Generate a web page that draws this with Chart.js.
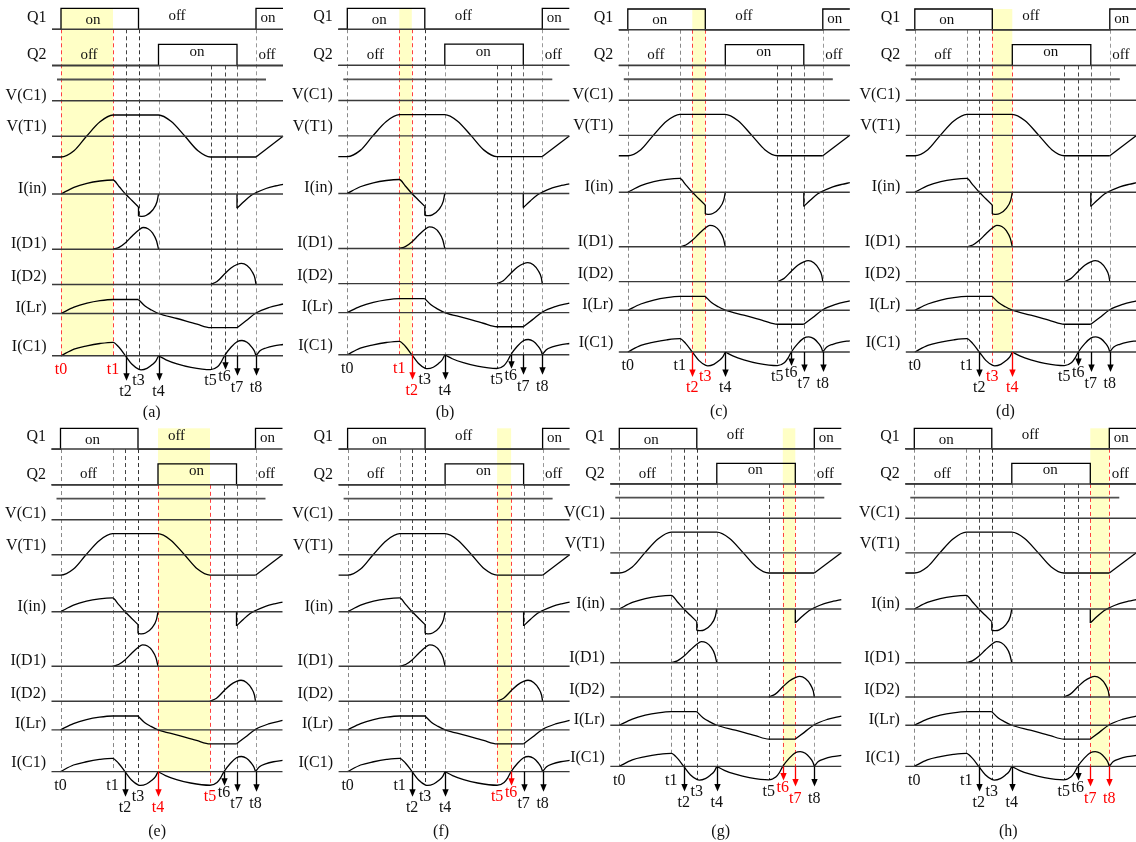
<!DOCTYPE html>
<html><head><meta charset="utf-8">
<script src="https://cdn.jsdelivr.net/npm/chart.js@4/dist/chart.umd.min.js"></script>
<style>
html,body{margin:0;padding:0;background:#fff;width:1136px;height:842px;overflow:hidden;position:relative}
canvas{position:absolute}
</style></head><body>
<script>
// ===== DATA =====
const tickLabels = ['t0','t1','t2','t3','t4','t5','t6','t7','t8'];
const tMarks = [0, 52, 64.5, 77.5, 97.5, 149.5, 163.5, 176, 195];
const tStart = -9, tEnd = 222;
const rowNames = ['Q1','Q2','V(C1)','V(T1)','I(in)','I(D1)','I(D2)','I(Lr)','I(C1)'];
const panelCaptions = ['(a)','(b)','(c)','(d)','(e)','(f)','(g)','(h)'];
const arrowMarks = [2, 4, 6, 7, 8];
const q1States = ['on','off','on'];
const q2States = ['off','on','off'];

// waveform segments: [time, level] (level: up = positive)
const q1Segs = [[[-9,0],[0,0],[0,21],[77.5,21],[77.5,0],[195,0],[195,21],[222,21]]];
const q2Segs = [[[-9,0],[97.5,0],[97.5,21.2],[176,21.2],[176,0],[222,0]]];
const vt1Segs = [
  [[-9,-20.7],[0,-20.7],[13,-14.5],[25.5,0],[39,14.5],[52,21.3],[97.5,21.3],[110,15],[124,0],[137,-14.5],[149.5,-20.7],[195,-20.7]],
  [[195,-20.7],[222,0]]
];
const iinSegs = [
  [[0,0],[13,6.7],[26,10.7],[39,13],[52,14],[58,7.5],[64.5,0],[71,-6.5],[77.5,-13]],
  [[77.5,-13],[77.5,-22]],
  [[77.5,-22],[81,-22.3],[85,-21.5],[91.7,-16],[96,-7.7],[97.5,0]],
  [[176,0],[176,-14.3]],
  [[176,-14.3],[183,-7.5],[190,-1.5],[195,1.3],[205,5.5],[214,8],[222,9.7]]
];
const id1Segs = [[[52,0],[58,1.8],[64.5,6.5],[71,13],[77.5,19],[82,21.7],[87,20.5],[91.7,16],[95.5,8.5],[97.5,0]]];
const id2Segs = [[[149.5,0],[156,3],[163.5,10.5],[170,16.5],[176,20],[180.5,21.2],[186,19],[191,13],[194,6],[195,0]]];
const ilrSegs = [
  [[0,0],[13,6.3],[26,10.3],[39,12.8],[52,14],[77.5,14]],
  [[77.5,14],[84,7.5],[90.5,3.5],[97.5,0],[116,-5],[136,-10.7],[149.5,-14.2],[176,-14.2]],
  [[176,-14.2],[185,-7.3],[195,0.5],[208,6],[222,9.5]]
];
const ic1Segs = [
  [[0,0],[13,6.7],[26,10],[39,12.3],[52,13.5],[58,8.5],[64.5,0],[71,-8.5],[78,-13.6],[80,-14],[86,-12.5],[91,-9],[95,-5],[97.5,0]],
  [[97.5,0],[105,-4],[116,-8],[130,-11.5],[149.5,-13.8],[156.5,-11],[160,-6.5],[163.5,0],[170,8.5],[176,14],[181,15.3],[186,13.5],[190.5,9],[193.5,4.5],[195,0]],
  [[195,0],[199,5],[205,7.8],[213,10],[222,11.3]]
];
const signalSegs = [q1Segs, q2Segs, null, vt1Segs, iinSegs, id1Segs, id2Segs, ilrSegs, ic1Segs];

// ===== LAYOUT =====
const rowBase = [29.3, 65.5, 100.8, 136.3, 194, 249.2, 284.5, 313.5, 355.8];
const rowLabelDy = [-12, -10.5, -5.5, -9.5, -5.5, -5.5, -7.5, -6, -9];
const extraLine = {y: 79.5, x0: -4, x1: 205};
const topLevel = 8.3;
const q1StateX = [32, 116, 207], q1StateDy = [-9.3, -13.6, -11];
const q2StateX = [28, 136, 206], q2StateDy = [-10.5, -13.8, -10.5];
const dashStartRow = [0,0,0,0,1,1,1,1,0];
const dashColor = ['#888','#888','#444','#333','#999','#444','#444','#666','#999'];
const dashExtra = [0,0,0,13.8,0,13.8,0,0,0];
const tLabelDy = [14,14,36,25,36,25,21,32,32];
const arrowLen = {2:25, 4:25, 6:14, 7:20, 8:20};
const panelX0 = [61, 347.3, 627.8, 914.8, 60.5, 347.6, 619.3, 914.3];
const panelYT = [8.3, 8.3, 9, 9, 428.3, 428.3, 428.3, 428.3];
const panelS  = [1, 0.997, 0.987, 0.987, 0.988, 0.988, 0.973, 0.973];
const capX = [90.7, 97.7, 91, 90.6, 96.6, 93.5, 101.4, 94];
const capY = [413, 413, 411.7, 411.7, 831.7, 831.7, 832, 831.7];
const YELLOW = 'rgb(255,255,198)';
const RED = '#f00';
const FONT = '"Liberation Serif", "DejaVu Serif", serif';

function isSmooth(pts){
  if (pts.length < 3) return false;
  for (let i=1;i<pts.length;i++) if (pts[i][0] <= pts[i-1][0]) return false;
  return true;
}

function buildDatasets(){
  const ds = [];
  // baselines
  rowBase.forEach(b => ds.push({data:[{x:tStart,y:b},{x:tEnd,y:b}], borderColor:'#3a3a3a', borderWidth:1.4}));
  ds.push({data:[{x:extraLine.x0,y:extraLine.y},{x:extraLine.x1,y:extraLine.y}], borderColor:'#505050', borderWidth:1.8});
  signalSegs.forEach((segs, r) => {
    if (!segs) return;
    segs.forEach(seg => {
      const sm = isSmooth(seg);
      ds.push({
        data: seg.map(([x,a]) => ({x, y: rowBase[r] - a})),
        borderColor:'#000', borderWidth:1.3,
        cubicInterpolationMode: sm ? 'monotone' : 'default', tension: 0
      });
    });
  });
  return ds;
}

const deco = {
  id: 'deco',
  beforeDatasetsDraw(chart, args, o){
    const {ctx} = chart; const xs = chart.scales.x, ys = chart.scales.y; const k = o.panel;
    ctx.save();
    const xa = xs.getPixelForValue(tMarks[k]), xb = xs.getPixelForValue(tMarks[k+1]);
    const yt = ys.getPixelForValue(topLevel), yb = ys.getPixelForValue(rowBase[8]);
    ctx.fillStyle = YELLOW; ctx.fillRect(xa, yt, xb-xa, yb-yt);
    ctx.setLineDash([4,3]); ctx.lineWidth = 1;
    tMarks.forEach((t,i) => {
      const hl = (i===k || i===k+1);
      const x = Math.round(xs.getPixelForValue(t)) + 0.5;
      const y0 = ys.getPixelForValue(rowBase[dashStartRow[i]]);
      const y1 = ys.getPixelForValue(rowBase[8] + dashExtra[i]);
      ctx.strokeStyle = hl ? '#ff4040' : dashColor[i];
      ctx.beginPath(); ctx.moveTo(x, y0); ctx.lineTo(x, y1); ctx.stroke();
    });
    ctx.restore();
  },
  afterDatasetsDraw(chart, args, o){
    const {ctx} = chart; const xs = chart.scales.x, ys = chart.scales.y; const k = o.panel;
    ctx.save();
    ctx.fillStyle = '#111'; ctx.textBaseline = 'middle';
    // row labels
    ctx.font = '16px ' + FONT; ctx.textAlign = 'right';
    rowNames.forEach((n,r) => ctx.fillText(n, xs.getPixelForValue(-14.5), ys.getPixelForValue(rowBase[r] + rowLabelDy[r])));
    // on / off
    ctx.font = '15px ' + FONT; ctx.textAlign = 'center';
    q1States.forEach((s,i) => ctx.fillText(s, xs.getPixelForValue(q1StateX[i]), ys.getPixelForValue(rowBase[0] + q1StateDy[i])));
    q2States.forEach((s,i) => ctx.fillText(s, xs.getPixelForValue(q2StateX[i]), ys.getPixelForValue(rowBase[1] + q2StateDy[i])));
    // arrows
    const yb = ys.getPixelForValue(rowBase[8]);
    ctx.lineWidth = 1.3;
    arrowMarks.forEach(i => {
      const hl = (i===k || i===k+1);
      const c = hl ? RED : '#000';
      const x = Math.round(xs.getPixelForValue(tMarks[i])) + 0.5;
      const tip = yb + arrowLen[i];
      ctx.strokeStyle = c; ctx.fillStyle = c;
      ctx.beginPath(); ctx.moveTo(x, yb); ctx.lineTo(x, tip - 5); ctx.stroke();
      ctx.beginPath(); ctx.moveTo(x - 3.2, tip - 7.5); ctx.lineTo(x + 3.2, tip - 7.5); ctx.lineTo(x, tip); ctx.closePath(); ctx.fill();
    });
    // t labels
    ctx.font = '16px ' + FONT; ctx.textAlign = 'center';
    tickLabels.forEach((l,i) => {
      const hl = (i===k || i===k+1);
      ctx.fillStyle = hl ? RED : '#111';
      ctx.fillText(l, xs.getPixelForValue(tMarks[i]), yb + tLabelDy[i]);
    });
    // caption
    ctx.fillStyle = '#111';
    ctx.fillText(panelCaptions[k], xs.getPixelForValue(capX[k]), capY[k] - o.top);
    ctx.restore();
  }
};

for (let k = 0; k < 8; k++){
  const row = k < 4 ? 0 : 1;
  const top = row === 0 ? 0 : 420;
  const H = row === 0 ? 420 : 422;
  const W = 292;
  const left = Math.floor(panelX0[k]) - 62;
  const cv = document.createElement('canvas');
  cv.width = W; cv.height = H;
  cv.style.left = left + 'px'; cv.style.top = top + 'px';
  cv.style.width = W + 'px'; cv.style.height = H + 'px';
  document.body.appendChild(cv);
  const xmin = -(panelX0[k] - left);
  const S = panelS[k];
  const ymin = topLevel - (panelYT[k] - top) / S;
  new Chart(cv, {
    type: 'line',
    data: { datasets: buildDatasets() },
    options: {
      responsive: false, animation: false, devicePixelRatio: 1, events: [],
      layout: { padding: 0 },
      elements: { point: { radius: 0 } },
      scales: {
        x: { type: 'linear', display: false, min: xmin, max: xmin + W },
        y: { type: 'linear', display: false, reverse: true, min: ymin, max: ymin + H / S }
      },
      plugins: { legend: {display:false}, tooltip: {enabled:false}, deco: { panel: k, top: top } }
    },
    plugins: [deco]
  });
}
</script>
</body></html>
